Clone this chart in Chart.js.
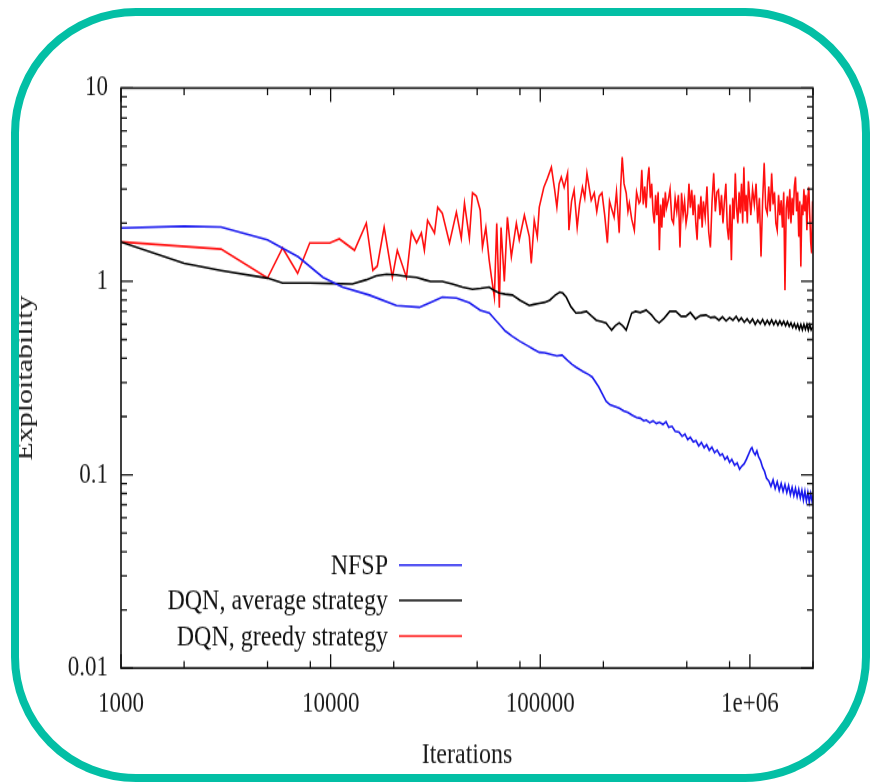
<!DOCTYPE html>
<html>
<head>
<meta charset="utf-8">
<script src="https://cdn.jsdelivr.net/npm/chart.js@4.4.1/dist/chart.umd.min.js"></script>
<style>
  html, body { margin: 0; padding: 0; background: #fff; }
  #wrap { position: relative; width: 873px; height: 783px; overflow: hidden; }
  /* the plot is drawn 626px high and stretched to the full 783px page height */
  #plot { position: absolute; left: 0; top: 0; transform: scaleY(1.2508); transform-origin: 0 0; }
  #frame {
    position: absolute; left: 11px; top: 8px; width: 859px; height: 774px;
    box-sizing: border-box; border: 8px solid #03bfa5; border-radius: 125px;
    pointer-events: none;
  }
</style>
</head>
<body>
<div id="wrap">
  <canvas id="plot" width="873" height="626"></canvas>
  <div id="frame"></div>
</div>
<script>
// axis ticks
const xTicks = [1000, 10000, 100000, 1000000];
const xTickLabels = ['1000', '10000', '100000', '1e+06'];
const xMinorSteps = [2, 5, 8];
const yTicks = [0.01, 0.1, 1, 10];
const yTickLabels = ['0.01', '0.1', '1', '10'];
const yMinorSteps = [2, 3, 4, 5, 6, 7, 8, 9];

const seriesLabels = ['NFSP', 'DQN, average strategy', 'DQN, greedy strategy'];

// NFSP
const nfspIter = [
  1000, 2000, 3000, 5000, 7000, 9200, 11400, 15300, 20600, 26500,
  30000, 34100, 39800, 45900, 51700, 57100, 63800, 68000, 73600, 80000,
  87000, 93000, 98900, 105000, 112000, 120000, 127000, 135000, 142000, 148000,
  160000, 170000, 177000, 190000, 206000, 215000, 225000, 238000, 250000, 262000,
  275000, 288000, 300000, 312000, 320000, 333000, 345000, 358000, 370000, 385000,
  398000, 410000, 425000, 440000, 459000, 475000, 490000, 505000, 520000, 537000,
  553000, 570000, 587000, 605000, 622000, 640000, 659000, 678000, 698000, 720000,
  740000, 760000, 780000, 800000, 820000, 845000, 870000, 893000, 916000, 940000,
  965000, 990000, 1010000, 1023000, 1040000, 1060000, 1080000, 1100000, 1125000, 1150000,
  1175000, 1200000, 1230000, 1260000, 1290000, 1320000, 1350000, 1380000, 1410000, 1440000,
  1470000, 1500000, 1530000, 1560000, 1590000, 1620000, 1650000, 1680000, 1710000, 1740000,
  1770000, 1800000, 1830000, 1860000, 1890000, 1920000, 1950000, 1980000, 2000000
];
const nfspVal = [
  1.89, 1.93, 1.91, 1.64, 1.34, 1.05, 0.935, 0.85, 0.75, 0.735,
  0.78, 0.83, 0.82, 0.775, 0.71, 0.686, 0.6, 0.555, 0.52, 0.49,
  0.465, 0.445, 0.43, 0.428, 0.42, 0.412, 0.416, 0.39, 0.372, 0.36,
  0.342, 0.33, 0.32, 0.285, 0.24, 0.23, 0.226, 0.221, 0.214, 0.21,
  0.203, 0.198, 0.196, 0.19, 0.192, 0.186, 0.19, 0.184, 0.187, 0.182,
  0.188, 0.176, 0.178, 0.168, 0.166, 0.158, 0.162, 0.152, 0.156, 0.148,
  0.15, 0.141, 0.147, 0.138, 0.143, 0.134, 0.139, 0.13, 0.134, 0.126,
  0.128, 0.12, 0.124, 0.116, 0.12, 0.112, 0.115, 0.107, 0.111, 0.114,
  0.121, 0.129, 0.136, 0.138, 0.131, 0.127, 0.133, 0.124, 0.118, 0.109,
  0.104, 0.096, 0.093, 0.087, 0.094, 0.085, 0.092, 0.083, 0.09, 0.082,
  0.089, 0.081, 0.088, 0.079, 0.086, 0.078, 0.085, 0.077, 0.084, 0.076,
  0.083, 0.074, 0.082, 0.073, 0.081, 0.072, 0.08, 0.073, 0.078
];

// DQN, average strategy
const avgIter = [
  1000, 2000, 3000, 5000, 5900, 7950, 10000, 12700, 14800, 16500,
  18500, 20600, 23000, 25700, 28000, 30000, 34100, 38000, 42500, 47500,
  52000, 57000, 60000, 63800, 68000, 73600, 80000, 88700, 93000, 98900,
  105000, 111000, 118000, 124000, 128000, 133000, 140000, 148000, 157000, 166000,
  175000, 185000, 195000, 206000, 212000, 219000, 228000, 238000, 247000, 257000,
  265000, 273000, 285000, 300000, 320000, 340000, 355000, 369000, 390000, 415000,
  443000, 470000, 495000, 520000, 550000, 580000, 617000, 650000, 680000, 712000,
  740000, 770000, 800000, 830000, 860000, 885000, 910000, 940000, 970000, 1000000,
  1030000, 1060000, 1090000, 1120000, 1150000, 1180000, 1210000, 1240000, 1270000, 1300000,
  1330000, 1360000, 1390000, 1420000, 1450000, 1480000, 1510000, 1540000, 1570000, 1600000,
  1630000, 1660000, 1690000, 1720000, 1750000, 1780000, 1810000, 1840000, 1870000, 1900000,
  1930000, 1960000, 2000000
];
const avgVal = [
  1.6, 1.24, 1.14, 1.04, 0.98, 0.98, 0.975, 0.97, 1.02, 1.07,
  1.09, 1.08, 1.06, 1.05, 1.02, 1.0, 1.0, 0.97, 0.935, 0.91,
  0.92, 0.935, 0.9, 0.87, 0.86, 0.85, 0.8, 0.75, 0.76, 0.77,
  0.78, 0.8, 0.85, 0.88, 0.87, 0.83, 0.74, 0.686, 0.69, 0.7,
  0.665, 0.63, 0.62, 0.61, 0.585, 0.56, 0.59, 0.61, 0.59, 0.56,
  0.62, 0.686, 0.7, 0.69, 0.71, 0.67, 0.63, 0.61, 0.645, 0.7,
  0.7, 0.66, 0.66, 0.69, 0.64, 0.665, 0.67, 0.65, 0.655, 0.63,
  0.655, 0.625, 0.65, 0.63, 0.66, 0.625, 0.648, 0.615, 0.64, 0.61,
  0.638, 0.6, 0.63, 0.605, 0.635, 0.598, 0.628, 0.6, 0.632, 0.598,
  0.626, 0.594, 0.625, 0.596, 0.622, 0.59, 0.618, 0.585, 0.61, 0.578,
  0.605, 0.572, 0.6, 0.565, 0.598, 0.562, 0.6, 0.565, 0.598, 0.56,
  0.596, 0.562, 0.585
];

// DQN, greedy strategy
const greedyIter = [
  1000, 3000, 5000, 5900, 6960, 7950, 9900, 11000, 13000, 14800,
  15900, 16700, 18000, 19700, 20800, 23000, 24300, 25700, 27100, 28000,
  29000, 31300, 32400, 34100, 36900, 39800, 42000, 43500, 45900, 47500,
  49600, 51700, 53000, 55000, 57000, 58500, 60400, 62000, 63800, 65000,
  67400, 69700, 72800, 76900, 79400, 84000, 88700, 90600, 93600, 96800,
  98900, 104000, 108000, 113000, 117000, 120000, 123000, 126000, 130000, 135000,
  137000, 141000, 145000, 150000, 154000, 159000, 163000, 167000, 175000, 181000,
  186000, 191000, 197000, 203000, 209000, 214000, 218000, 225000, 231000, 238000,
  242000, 246000, 251000, 257000, 262000, 266000, 273000, 281000, 288000, 296000,
  300000, 305000, 310000, 315000, 320000, 325000, 330000, 335000, 340000, 345000,
  350000, 355000, 360000, 365000, 370000, 375000, 380000, 385000, 390000, 395000,
  400000, 408000, 416000, 424000, 432000, 440000, 448000, 456000, 464000, 472000,
  480000, 488000, 496000, 504000, 512000, 520000, 528000, 536000, 544000, 552000,
  560000, 568000, 576000, 584000, 592000,
  600000, 612000, 624000, 636000, 648000, 660000, 672000, 684000, 696000, 708000,
  720000, 732000, 744000, 756000, 768000, 780000, 792000, 804000, 816000, 828000,
  840000, 852000, 864000, 876000, 888000, 900000, 912000, 924000, 936000, 948000,
  960000, 972000, 984000, 996000,
  1010000, 1030000, 1050000, 1070000, 1090000, 1110000, 1130000, 1150000, 1170000, 1190000,
  1210000, 1230000, 1250000, 1270000, 1290000, 1310000, 1330000, 1350000, 1370000, 1390000,
  1410000, 1430000, 1450000, 1470000, 1490000, 1510000, 1530000, 1550000, 1570000, 1590000,
  1610000, 1630000, 1650000, 1670000, 1690000, 1710000, 1730000, 1750000, 1770000, 1790000,
  1810000, 1830000, 1850000, 1870000, 1890000, 1910000, 1930000, 1950000, 1970000, 1990000,
  2000000
];
const greedyVal = [
  1.6, 1.47, 1.04, 1.49, 1.1, 1.58, 1.58, 1.66, 1.45, 2.0,
  1.14, 1.2, 1.91, 1.05, 1.45, 1.05, 1.8, 1.58, 1.78, 1.45,
  2.07, 1.78, 2.42, 2.25, 1.58, 2.28, 1.67, 2.54, 1.67, 2.87,
  2.76, 2.34, 1.5, 1.9, 1.3, 1.05, 0.83, 2.0, 0.73, 1.9,
  1.0, 2.15, 1.34, 2.0, 1.64, 2.2, 1.7, 1.24, 2.07, 1.7,
  2.42, 3.07, 3.4, 3.9, 3.0, 2.42, 3.2, 3.47, 3.07, 3.63,
  1.84, 2.6, 2.97, 1.9, 2.5, 3.07, 2.7, 3.63, 2.63, 2.87,
  2.3, 2.76, 2.87, 2.2, 1.58, 2.6, 2.42, 2.15, 2.9, 1.78,
  3.1, 4.4, 3.2, 2.87, 2.3, 2.54, 2.1, 1.84, 2.9, 2.54,
  2.6, 3.77, 2.5, 3.1, 2.4, 3.3, 3.9, 2.7, 3.2, 2.3,
  2.0, 2.8, 2.2, 2.9, 1.45, 2.5, 1.9, 2.7, 2.15, 2.9,
  2.4, 2.63, 3.0, 2.1, 2.0, 2.7, 2.3, 2.8, 1.5, 2.87,
  2.2, 2.6, 2.0, 2.25, 3.2, 2.4, 2.97, 2.2, 2.8, 2.0,
  1.64, 2.5, 2.1, 2.76, 1.9,
  2.6, 2.15, 3.1, 1.8, 1.5, 2.6, 3.63, 2.3, 2.9, 2.97,
  2.2, 2.8, 2.0, 2.6, 3.2, 1.9, 1.64, 2.5, 1.29, 2.7,
  2.1, 3.63, 2.4, 2.0, 2.9, 2.25, 3.2, 2.0, 3.9, 2.3,
  2.8, 2.0, 3.3, 2.76,
  2.2, 3.0, 2.5, 3.2, 2.0, 2.7, 1.34, 2.6, 4.1, 2.4,
  2.25, 3.1, 2.3, 3.63, 2.5, 2.9, 2.0, 1.84, 2.8, 2.2,
  2.63, 1.9, 2.9, 0.9, 2.4, 2.76, 2.1, 3.0, 2.0, 2.7,
  2.2, 3.1, 3.47, 2.3, 2.9, 1.7, 2.6, 1.19, 2.5, 2.2,
  3.0, 2.3, 2.8, 1.84, 2.7, 3.07, 2.2, 1.6, 1.4, 2.6,
  2.2
];

const seriesColors = ['#1a1aee', '#000000', '#ff1010'];

const toPoints = (xs, ys) => xs.map((v, i) => ({ x: v, y: ys[i] }));

Chart.defaults.font.family = '"Liberation Serif", "DejaVu Serif", serif';
Chart.defaults.color = '#1a1a1a';

// gnuplot-style border with inward ticks on all four sides
const gnuplotBorder = {
    id: 'gnuplotBorder',
    afterDatasetsDraw(chart) {
        const { ctx, chartArea: a, scales: { x, y } } = chart;
        ctx.save();
        ctx.strokeStyle = '#111';
        ctx.lineWidth = 1.6;
        ctx.strokeRect(a.left, a.top, a.right - a.left, a.bottom - a.top);

        ctx.lineWidth = 1.3;
        ctx.beginPath();
        xTicks.forEach((t) => {
            const px = x.getPixelForValue(t);
            ctx.moveTo(px, a.bottom); ctx.lineTo(px, a.bottom - 11);
            ctx.moveTo(px, a.top); ctx.lineTo(px, a.top + 11);
            xMinorSteps.forEach((m) => {
                const v = t * m;
                if (v > x.max) return;
                const mx = x.getPixelForValue(v);
                ctx.moveTo(mx, a.bottom); ctx.lineTo(mx, a.bottom - 5.6);
                ctx.moveTo(mx, a.top); ctx.lineTo(mx, a.top + 5.6);
            });
        });
        yTicks.forEach((t) => {
            const py = y.getPixelForValue(t);
            ctx.moveTo(a.left, py); ctx.lineTo(a.left + 12, py);
            ctx.moveTo(a.right, py); ctx.lineTo(a.right - 12, py);
            if (t >= y.max) return;
            yMinorSteps.forEach((m) => {
                const my = y.getPixelForValue(t * m);
                ctx.moveTo(a.left, my); ctx.lineTo(a.left + 6, my);
                ctx.moveTo(a.right, my); ctx.lineTo(a.right - 6, my);
            });
        });
        ctx.stroke();
        ctx.restore();
    }
};

// key in the lower left: right-aligned titles followed by a line sample
const gnuplotKey = {
    id: 'gnuplotKey',
    afterDraw(chart) {
        const { ctx } = chart;
        ctx.save();
        ctx.font = '24px "Liberation Serif", serif';
        ctx.textAlign = 'right';
        ctx.textBaseline = 'middle';
        chart.data.datasets.forEach((ds, i) => {
            const rowY = 451.7 + i * 28.4;
            ctx.fillStyle = '#111';
            ctx.fillText(ds.label, 388, rowY + 1);
            ctx.strokeStyle = ds.borderColor;
            ctx.lineWidth = 1.5;
            ctx.beginPath();
            ctx.moveTo(399, rowY);
            ctx.lineTo(462, rowY);
            ctx.stroke();
        });
        ctx.restore();
    }
};

const lineStyle = (i) => ({
    label: seriesLabels[i],
    borderColor: seriesColors[i],
    backgroundColor: seriesColors[i],
    borderWidth: 1.6,
    pointRadius: 0,
    tension: 0,
    fill: false
});

new Chart(document.getElementById('plot'), {
    type: 'line',
    data: {
        datasets: [
            { ...lineStyle(0), data: toPoints(nfspIter, nfspVal) },
            { ...lineStyle(1), data: toPoints(avgIter, avgVal) },
            { ...lineStyle(2), data: toPoints(greedyIter, greedyVal) }
        ]
    },
    options: {
        responsive: false,
        devicePixelRatio: 1,
        animation: false,
        layout: { padding: { top: 70.4, right: 60, left: 0, bottom: 0 } },
        plugins: { legend: { display: false }, tooltip: { enabled: false } },
        scales: {
            x: {
                type: 'logarithmic',
                min: 1000,
                max: 2000000,
                afterFit: (s) => { s.height = 91.9; },
                afterBuildTicks: (s) => { s.ticks = xTicks.map((v) => ({ value: v })); },
                grid: { display: false, drawTicks: false },
                border: { display: false },
                ticks: {
                    autoSkip: false,
                    maxRotation: 0,
                    padding: 15,
                    font: { size: 23 },
                    callback: (v, i) => xTickLabels[i]
                },
                title: {
                    display: true,
                    text: 'Iterations',
                    font: { size: 24 },
                    padding: { top: 0, bottom: 8 }
                }
            },
            y: {
                type: 'logarithmic',
                min: 0.01,
                max: 10,
                afterFit: (s) => { s.width = 121; },
                afterBuildTicks: (s) => { s.ticks = yTicks.map((v) => ({ value: v })); },
                grid: { display: false, drawTicks: false },
                border: { display: false },
                ticks: {
                    autoSkip: false,
                    padding: 13,
                    font: { size: 23 },
                    callback: (v, i) => yTickLabels[i]
                },
                title: {
                    display: true,
                    text: 'Exploitability',
                    font: { size: 24 },
                    padding: { top: 11, bottom: 0 }
                }
            }
        }
    },
    plugins: [gnuplotBorder, gnuplotKey]
});
</script>
</body>
</html>
